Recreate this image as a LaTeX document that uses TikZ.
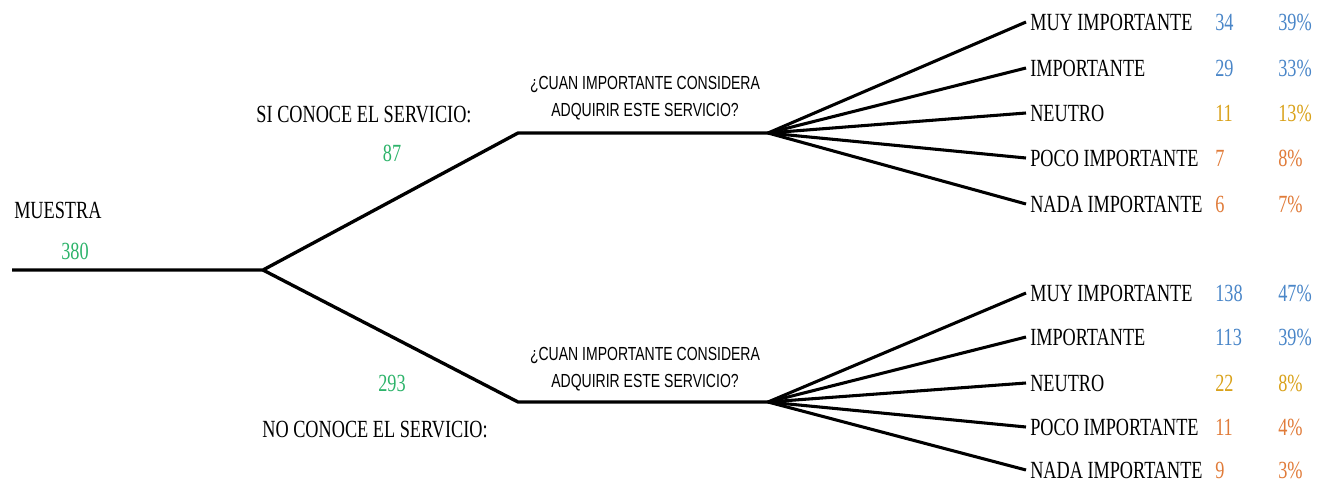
\documentclass[tikz,border=0pt]{standalone}
\usepackage{fontspec}
\setmainfont{Liberation Serif}[FakeStretch=0.74]
\newfontfamily\qfont{Liberation Sans}[FakeStretch=0.74]
\definecolor{cgreen}{HTML}{2DB36A}
\definecolor{cblue}{HTML}{4A86C8}
\definecolor{cgold}{HTML}{D9A21B}
\definecolor{corange}{HTML}{E07B39}
\tikzset{
  lbl/.style={inner sep=0pt, font=\fontsize{18.5}{20}\selectfont},
  opt/.style={inner xsep=3pt, inner ysep=0pt, anchor=west, font=\fontsize{18.5}{20}\selectfont},
  ques/.style={inner sep=0pt, align=center, font=\qfont\fontsize{14.2}{20}\selectfont},
  branch/.style={line width=2.5pt, line join=miter},
  fan/.style={line width=2.3pt}
}
\begin{document}
\begin{tikzpicture}[x=0.75pt,y=-0.75pt]
\useasboundingbox (0,0) rectangle (1332,483);
\coordinate (s) at (12,270);
\coordinate (r) at (263,270);
\coordinate (u1) at (518,133);
\coordinate (u2) at (768,133);
\coordinate (d1) at (518,402);
\coordinate (d2) at (768,402);
\draw[branch] (s) -- (r) -- (u1) -- (u2);
\draw[branch] (r) -- (d1) -- (d2);

\node[lbl, anchor=west] (muestra) at (14,210) {MUESTRA};
\node[lbl, text=cgreen] (n380) at (75,251) {380};
\node[lbl] (si) at (364,115) {SI CONOCE EL SERVICIO:};
\node[lbl, text=cgreen] (n87) at (392,153) {87};
\node[lbl, text=cgreen] (n293) at (392,383) {293};
\node[lbl] (no) at (375,430) {NO CONOCE EL SERVICIO:};
\node[ques] (q1) at (645,98) {¿CUAN IMPORTANTE CONSIDERA\\ADQUIRIR ESTE SERVICIO?};
\node[ques] (q2) at (645,369) {¿CUAN IMPORTANTE CONSIDERA\\ADQUIRIR ESTE SERVICIO?};

\foreach \i/\y/\t/\n/\p/\c in {
  1/22/MUY IMPORTANTE/34/39\%/cblue,
  2/68/IMPORTANTE/29/33\%/cblue,
  3/113/NEUTRO/11/13\%/cgold,
  4/158/POCO IMPORTANTE/7/8\%/corange,
  5/204/NADA IMPORTANTE/6/7\%/corange}{
  \node[opt] (a\i) at (1026,\y) {\t};
  \node[opt, inner xsep=0pt, text=\c] (an\i) at (1215,\y) {\n};
  \node[opt, inner xsep=0pt, text=\c] (ap\i) at (1278,\y) {\p};
  \draw[fan] (u2) -- (a\i.west);
}
\foreach \i/\y/\t/\n/\p/\c in {
  1/293/MUY IMPORTANTE/138/47\%/cblue,
  2/337/IMPORTANTE/113/39\%/cblue,
  3/383/NEUTRO/22/8\%/cgold,
  4/427/POCO IMPORTANTE/11/4\%/corange,
  5/470/NADA IMPORTANTE/9/3\%/corange}{
  \node[opt] (b\i) at (1026,\y) {\t};
  \node[opt, inner xsep=0pt, text=\c] (bn\i) at (1215,\y) {\n};
  \node[opt, inner xsep=0pt, text=\c] (bp\i) at (1278,\y) {\p};
  \draw[fan] (d2) -- (b\i.west);
}
\end{tikzpicture}
\end{document}
